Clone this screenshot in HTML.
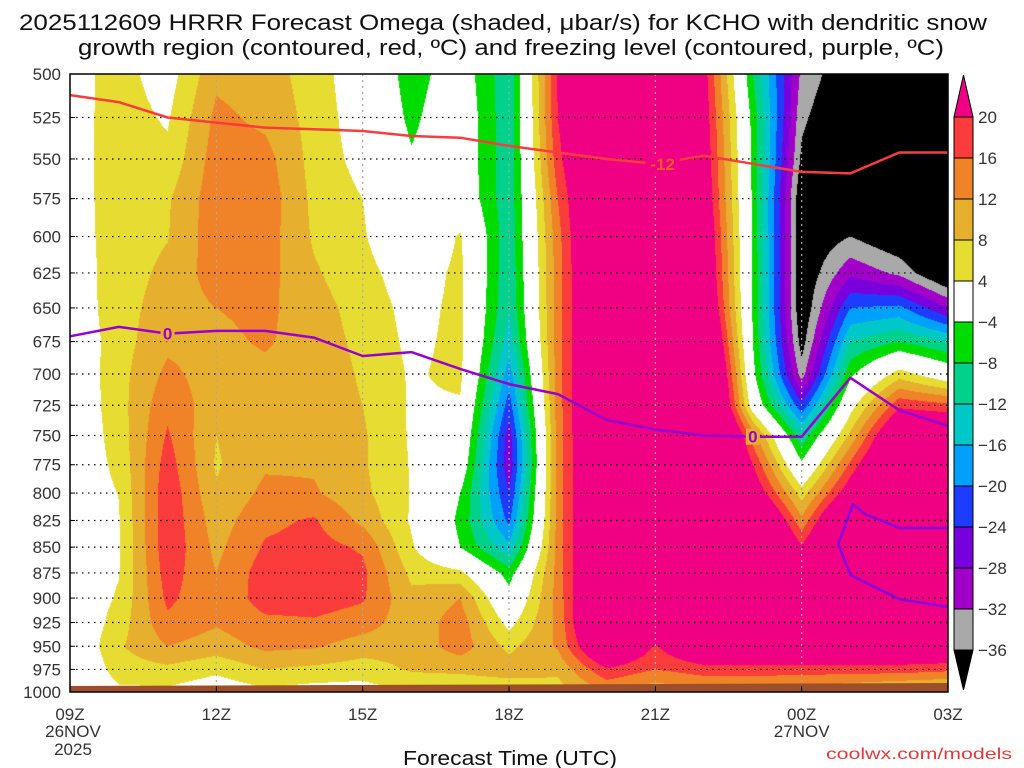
<!DOCTYPE html>
<html><head><meta charset="utf-8"><title>HRRR Omega KCHO</title>
<style>
html,body{margin:0;padding:0;background:#fff;}
#wrap{position:relative;width:1024px;height:768px;overflow:hidden;font-family:"Liberation Sans",sans-serif;}
#field{position:absolute;left:70px;top:74px;}
#ov{position:absolute;left:0;top:0;}
</style></head>
<body>
<div id="wrap">
<canvas id="field" width="878" height="618"></canvas>
<svg id="ov" width="1024" height="768" xmlns="http://www.w3.org/2000/svg">
<text x="503" y="30" font-size="22" text-anchor="middle" textLength="968" lengthAdjust="spacingAndGlyphs" fill="#111">2025112609 HRRR Forecast Omega (shaded, μbar/s) for KCHO with dendritic snow</text>
<text x="511" y="55" font-size="22" text-anchor="middle" textLength="866" lengthAdjust="spacingAndGlyphs" fill="#111">growth region (contoured, red, ºC) and freezing level (contoured, purple, ºC)</text>
<g id="grid"></g>
<g id="lines"></g>
<rect x="70" y="74" width="878" height="618" fill="none" stroke="#000" stroke-width="1.5"/>
<g id="yax"></g>
<g id="xax"></g>
<text x="510" y="765" font-size="20" text-anchor="middle" textLength="214" lengthAdjust="spacingAndGlyphs" fill="#111">Forecast Time (UTC)</text>
<text x="826" y="759" font-size="16" textLength="186" lengthAdjust="spacingAndGlyphs" fill="#e03a3a">coolwx.com/models</text>
<g id="cbar"></g>
</svg>
</div>
<script>
// ---- data ----
const levels = [500,525,550,575,600,625,650,675,700,725,750,775,800,825,850,875,900,925,950,975,1000];
const hourLabels = ["09Z","","","12Z","","","15Z","","","18Z","","","21Z","","","00Z","","","03Z"];
const om09 = [2.4,2.2,2,2,1.8,1.5,1,0,0,0,0,0.5,1,1,1.5,1,0,-1,-1,-2,-2];
const om10 = [5.5,5.8,6,6,6,6,6.3,6.3,6.5,6.3,5.8,5,4.1,3.7,3.5,3.8,4.5,6,7.5,6,3];
const om11 = [2,3.5,5,7.5,7.8,9,10,11,13,15,16.5,18,19,19,19,18,17,15,12,7,3];
const om12 = [11,13,14,14.5,14.5,14,12,11,10,9.5,8,7.5,8.5,10,11,12,12.5,12.5,10,5,1];
const om13 = [10,11,13.5,14.5,14,13.5,13,12.5,11,11,11,11.5,13,15,16.5,18,18,15,13,8,3];
const om14 = [6,6.5,6.5,7,7.5,8.5,9.5,10,10.5,10.5,11,11.5,12.5,16.5,17.5,18,18,15.5,12.5,7,2];
const om15 = [1,1.5,2.5,4,4.5,5.5,6.5,7,7.5,8,8.5,8.5,9,11,15.5,17,16.5,14,10,6,2];
const om16 = [-6,-5,-3.5,-2,-1,1.5,2.5,3,3.5,3.5,3.5,3.7,3.8,3.5,4.5,7,9,9.5,9.5,8.5,4];
const om17 = [-1,0,0,0.5,4.5,5,5,5,5,3.5,2,0,-4,-5,-4,5,12,14,14,9,4];
const om18 = [-11,-11,-11,-11,-11,-11.5,-12,-14,-18,-22,-26,-27,-24,-21,-15,-6,-2,2.5,7,10,5];
const om19 = [20.5,20,18.5,16,14.5,14,14,14,14,14,13.5,13.5,13.5,13.5,13.5,13.5,13.5,13,12.5,9,6];
const om20 = [35,35,35,35,35,35,35,35,35,35,35,35,35,35,35,35,35,35,30,19.5,12];
const om21 = [35,35,35,35,35,35,35,35,35,35,35,35,35,35,35,35,35,35,19.5,16,9];
const om22 = [22,23,24,25,27,28,30,35,40,42,45,45,45,45,45,45,45,45,28,18,11];
const om23 = [-8,-5.5,-5,-4.8,-4.7,-4.6,-4.5,-4,-2.5,1,14,20,25,35,40,40,40,40,28,18,11];
const om00 = [-33,-35,-37,-40,-40,-40,-40,-38,-34,-23,-11,-3,6,13,20.5,30,35,35,28,18,10];
const om01 = [-40,-42,-45,-42,-36,-29,-20,-12,-5,2,9,17,24,35,40,40,40,40,28,18,8];
const om02 = [-45,-45,-45,-45,-40,-33,-19,-8,6,19,30,35,40,40,40,40,40,40,28,18,6];
const om03 = [-45,-45,-45,-45,-45,-42,-28,-12,0,17,30,35,40,40,40,40,40,40,28,17,5];
const omega = [om09,om10,om11,om12,om13,om14,om15,om16,om17,om18,om19,om20,om21,om22,om23,om00,om01,om02,om03];
const isoM12P = [512,516,525,528,531,532,533,536,537,542,546,550,553,548,553,558,559,546,546];
const freezeP = [671,664,669,667,667,672,686,683,696,708,716,737,745,750,751,751,703,729,742];
const warmLoopH = [18,17,16.3,16.05,15.75,16,17,18];
const warmLoopP = [832,832,819,810,847,877,901,909];
const cbarLevels = [20,16,12,8,4,-4,-8,-12,-16,-20,-24,-28,-32,-36];
const cbarColors = ["#fa3c3c","#f08228","#e6af2d","#e6dc32","#ffffff","#00dc00","#00d28c","#00c8c8","#00a0ff","#1e3cff","#7800dc","#a000c8","#a9a9a9"];

// ---- axes ----
const X0=70, X1=948, Y0=74, Y1=692;
function xOf(h){return X0 + h*(X1-X0)/18;}
function yOf(p){return Y0 + (Y1-Y0)*Math.log(p/500)/Math.log(2);}
function colorOf(v){
  if(v>=20) return [240,0,130];
  if(v>=16) return [250,60,60];
  if(v>=12) return [240,130,40];
  if(v>=8) return [230,175,45];
  if(v>=4) return [230,220,50];
  if(v>=-4) return [255,255,255];
  if(v>=-8) return [0,220,0];
  if(v>=-12) return [0,210,140];
  if(v>=-16) return [0,200,200];
  if(v>=-20) return [0,160,255];
  if(v>=-24) return [30,60,255];
  if(v>=-28) return [120,0,220];
  if(v>=-32) return [160,0,200];
  if(v>=-36) return [169,169,169];
  return [0,0,0];
}
// shading
(function(){
  const cv=document.getElementById('field'), ctx=cv.getContext('2d');
  const W=cv.width,H=cv.height, img=ctx.createImageData(W,H), d=img.data;
  const nL=levels.length, nT=omega.length;
  for(let py=0;py<H;py++){
    const y=Y0+py+0.5;
    const p=500*Math.pow(2,(y-Y0)/(Y1-Y0));
    let fj=(p-levels[0])/(levels[1]-levels[0]);
    let j0=Math.min(nL-2,Math.max(0,Math.floor(fj))); let ty=fj-j0;
    for(let px=0;px<W;px++){
      const fh=(px+0.5)*(nT-1)/W;
      let i0=Math.min(nT-2,Math.floor(fh)); let tx=fh-i0;
      const a=omega[i0][j0],b=omega[i0+1][j0],c=omega[i0][j0+1],e=omega[i0+1][j0+1];
      const v=(a*(1-tx)+b*tx)*(1-ty)+(c*(1-tx)+e*tx)*ty;
      const col=colorOf(v); const k=(py*W+px)*4;
      d[k]=col[0];d[k+1]=col[1];d[k+2]=col[2];d[k+3]=255;
    }
  }
  ctx.putImageData(img,0,0);
})();
const NS="http://www.w3.org/2000/svg";
function mk(tag,attrs,parent){const el=document.createElementNS(NS,tag);for(const k in attrs)el.setAttribute(k,attrs[k]);parent.appendChild(el);return el;}
// ground strip
const gridG=document.getElementById('grid');
const ground=mk('polygon',{points:`${X0},686 ${X1},683 ${X1},692 ${X0},692`,fill:'#9c4f2a'},gridG);


// grid lines
levels.forEach((p,i)=>{
  if(i===0||i===levels.length-1) return;
  const ln=mk('line',{x1:X0,x2:X1,y1:yOf(p),y2:yOf(p),stroke:'#000','stroke-width':1.2,'stroke-dasharray':'1.5 4.5'},gridG);
  
  
});
hourLabels.forEach((lb,i)=>{
  if(!lb||i===0||i===18) return;
  const ln=mk('line',{x1:xOf(i),x2:xOf(i),y1:Y0,y2:Y1,stroke:'#aaa','stroke-width':1.2,'stroke-dasharray':'2 4'},gridG);
  
  
});
// contour lines
const linesG=document.getElementById('lines');
function pathFrom(hs,ps){return hs.map((h,i)=>(i?'L':'M')+xOf(h).toFixed(1)+','+yOf(ps[i]).toFixed(1)).join(' ');}
const hrs=omega.map((_,i)=>i);
const iso=mk('path',{d:pathFrom(hrs,isoM12P),fill:'none',stroke:'#fa3c3c','stroke-width':2.5,'stroke-linejoin':'round'},linesG);


const fz=mk('path',{d:pathFrom(hrs,freezeP),fill:'none',stroke:'#9800d0','stroke-width':2.5,'stroke-linejoin':'round'},linesG);


const wl=mk('path',{d:pathFrom(warmLoopH,warmLoopP),fill:'none',stroke:'#8a00e0','stroke-width':2.5,'stroke-linejoin':'round'},linesG);


function lbl(h,p,txt,col,bg){
  const x=xOf(h),y=yOf(p);
  const r=mk('rect',{x:x-txt.length*5-2,y:y-8,width:txt.length*10+4,height:16,fill:bg},linesG);
  
  
  const t=mk('text',{x:x,y:y+6,'font-size':17,'font-weight':'bold','text-anchor':'middle',fill:col},linesG);
  t.textContent=txt;
  
  
}
lbl(12.15,553,'-12','#f05a28','#f00082');
lbl(2,669,'0','#9800d0','#e6af2d');
lbl(14,751,'0','#9800d0','#e6af2d');
// y axis labels
const yax=document.getElementById('yax');
levels.forEach(p=>{
  const t=mk('text',{x:61,y:yOf(p)+6,'font-size':17,'text-anchor':'end',fill:'#333'},yax);
  t.textContent=String(p);
  
  
  const tk=mk('line',{x1:X0,x2:X0+5,y1:yOf(p),y2:yOf(p),stroke:'#000','stroke-width':1},yax);
  
  
});
// x axis labels
const xax=document.getElementById('xax');
hourLabels.forEach((lb,i)=>{
  if(!lb) return;
  const t=mk('text',{x:xOf(i),y:720,'font-size':17,'text-anchor':'middle',fill:'#333'},xax);
  t.textContent=lb;
  
  
  const tk=mk('line',{x1:xOf(i),x2:xOf(i),y1:Y1,y2:Y1-6,stroke:'#000','stroke-width':1},xax);
  
  
});
[[0,737,'26NOV'],[0,755,'2025'],[15,737,'27NOV']].forEach(a=>{
  const t=mk('text',{x:xOf(a[0])+(a[0]===0?3:0),y:a[1],'font-size':17,'text-anchor':'middle',fill:'#333'},xax);
  t.textContent=a[2];
  
  
});
// colorbar
const cb=document.getElementById('cbar');
const CBX=954,CBW=19,CB0=117,CBS=41;
const cbTop=mk('polygon',{points:`${CBX},${CB0} ${CBX+CBW},${CB0} ${CBX+CBW/2},75`,fill:'#f00082',stroke:'#000','stroke-width':1},cb);


cbarColors.forEach((c,i)=>{
  const r=mk('rect',{x:CBX,y:CB0+i*CBS,width:CBW,height:CBS,fill:c,stroke:'#000','stroke-width':1},cb);
  
  
});
const yb=CB0+cbarColors.length*CBS;
const cbBot=mk('polygon',{points:`${CBX},${yb} ${CBX+CBW},${yb} ${CBX+CBW/2},690`,fill:'#000',stroke:'#000','stroke-width':1},cb);


cbarLevels.forEach((v,i)=>{
  const t=mk('text',{x:978,y:CB0+i*CBS+6,'font-size':17,fill:'#333'},cb);
  t.textContent=(v<0?'\u2212':'')+Math.abs(v);
  
  
});
</script>
</body></html>
